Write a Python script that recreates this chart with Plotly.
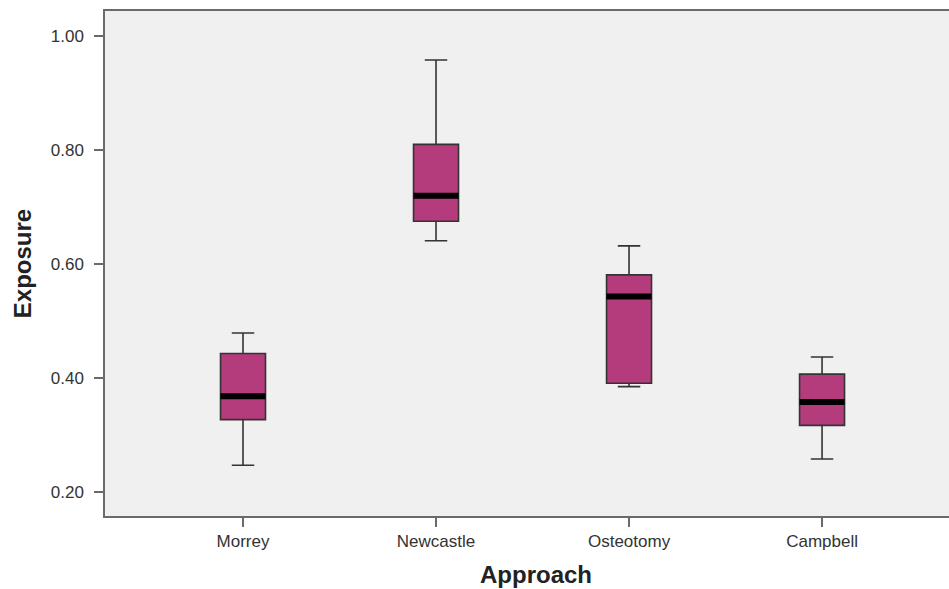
import plotly.graph_objects as go

categories = ["Morrey", "Newcastle", "Osteotomy", "Campbell"]
lower_whisker = [0.247, 0.641, 0.385, 0.258]
q1 = [0.327, 0.675, 0.391, 0.317]
median = [0.368, 0.720, 0.543, 0.358]
q3 = [0.443, 0.810, 0.581, 0.407]
upper_whisker = [0.479, 0.958, 0.632, 0.437]
y_ticks = [0.20, 0.40, 0.60, 0.80, 1.00]

box_w = 0.233
fill = "#b43c7c"
edge = "#333333"
font_family = "Liberation Sans, Arial, sans-serif"

fig = go.Figure()
fig.add_trace(go.Box(
    x=categories,
    q1=q1, median=median, q3=q3,
    lowerfence=lower_whisker, upperfence=upper_whisker,
    fillcolor=fill,
    line=dict(color=edge, width=1.6),
    width=box_w,
    whiskerwidth=0.5,
    boxpoints=False,
    showlegend=False,
    hoverinfo="skip",
))

# thick median bars
for i, m in enumerate(median):
    fig.add_shape(type="line", xref="x", yref="y",
                  x0=i - box_w / 2, x1=i + box_w / 2, y0=m, y1=m,
                  line=dict(color="black", width=6))

fig.update_layout(
    width=967, height=589,
    margin=dict(l=105, r=0, t=11, b=73),
    paper_bgcolor="white",
    plot_bgcolor="#f0f0f0",
    font=dict(family=font_family, color="#333333"),
    xaxis=dict(
        type="category",
        range=[-0.715, 3.751],
        showgrid=False, zeroline=False,
        showline=True, linecolor="#6a6a6a", linewidth=1.5, mirror=True,
        ticks="outside", ticklen=9, tickwidth=1.5, tickcolor="#6a6a6a",
        tickfont=dict(size=17, color="#333333"),
        title=dict(text="<b>Approach</b>", font=dict(size=24, color="#222222"), standoff=16),
    ),
    yaxis=dict(
        range=[0.158, 1.044],
        tickvals=y_ticks,
        ticktext=[f"{v:.2f}" for v in y_ticks],
        showgrid=False, zeroline=False,
        showline=True, linecolor="#6a6a6a", linewidth=1.5, mirror=False,
        ticks="outside", ticklen=9, tickwidth=1.5, tickcolor="#6a6a6a",
        ticklabelstandoff=7,
        tickfont=dict(size=17, color="#333333"),
        title=dict(text="<b>Exposure</b>", font=dict(size=24, color="#222222"), standoff=12),
    ),
)

fig.write_html("out.html", config={"displayModeBar": False},
               post_script="document.body.style.margin='0';document.body.style.overflow='hidden';")
